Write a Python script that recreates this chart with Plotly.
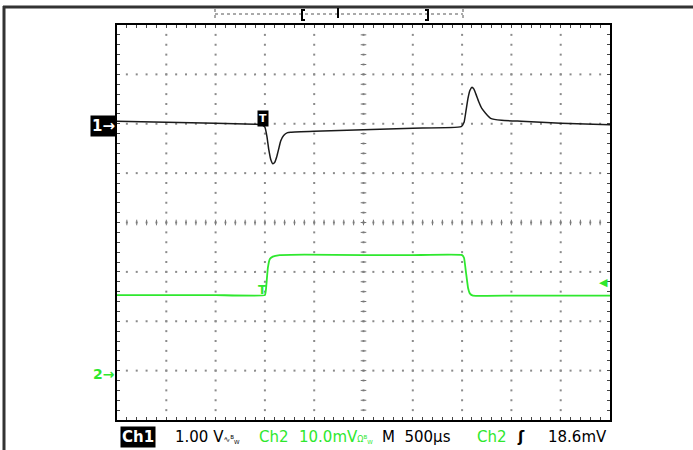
import numpy as np
import plotly.graph_objects as go

# time axis in microseconds (500 us/div, 10 div)
t_ch1 = [-2500, -2000, -1500, -1100, -1030, -1000, -980, -960, -940, -920, -900,
         -880, -860, -840, -810, -770, -740, -500, 0, 500, 990, 1020, 1040, 1060,
         1080, 1100, 1120, 1140, 1170, 1200, 1240, 1290, 1400, 1600, 2000, 2500]
v_ch1 = [0.10, 0.08, 0.06, 0.04, 0.03, -0.02, -0.20, -0.48, -0.68, -0.76, -0.73,
         -0.62, -0.46, -0.30, -0.19, -0.13, -0.12, -0.10, -0.07, -0.04, -0.01, 0.08,
         0.32, 0.57, 0.73, 0.79, 0.75, 0.65, 0.49, 0.36, 0.26, 0.16, 0.12, 0.10,
         0.06, 0.03]

t_ch2 = [-2500, -1500, -1000, -990, -970, -950, -920, -850, -600, 0, 500, 1000,
         1020, 1040, 1060, 1080, 1110, 1500, 2500]
mv_ch2 = [16.0, 16.0, 16.0, 17.0, 21.5, 23.3, 23.8, 24.1, 24.2, 24.1, 24.1, 24.1,
          23.5, 20.5, 17.5, 16.3, 15.9, 15.9, 15.9]

CH1_VDIV = 1.0      # V/div
CH2_VDIV = 10.0     # mV/div
CH1_POS = 1.95      # div
CH2_POS = -3.07     # div
TRIG_LEVEL = 18.6   # mV
TRIG_TIME = -1020   # us

# pixel helpers for decorations outside the graticule
L, R, T, B = 117, 610, 25, 420
def px(x):
    return (x - L) / (R - L)
def py(y):
    return (B - y) / (B - T)

GREEN = '#2ee82e'
fig = go.Figure()

# graticule dots
gx, gy = [], []
for k in range(-4, 5):
    for j in range(1, 40):
        gx.append(k * 500)
        gy.append(-4 + j * 0.2)
for k in range(-3, 4):
    for j in range(1, 50):
        gx.append(-2500 + j * 100)
        gy.append(k)
fig.add_trace(go.Scatter(x=gx, y=gy, mode='markers', hoverinfo='skip',
                         marker=dict(symbol='square', size=2, color='#8a8a8a', line_width=0)))

# center cross ticks
cx = [-2500 + j * 100 for j in range(1, 50)]
cy = [-4 + j * 0.2 for j in range(1, 40)]
fig.add_trace(go.Scatter(x=cx, y=[0] * len(cx), mode='markers', hoverinfo='skip',
                         marker=dict(symbol='line-ns', size=4, line=dict(width=1, color='#777'))))
fig.add_trace(go.Scatter(x=[0] * len(cy), y=cy, mode='markers', hoverinfo='skip',
                         marker=dict(symbol='line-ew', size=4, line=dict(width=1, color='#777'))))

# waveforms
fig.add_trace(go.Scatter(x=t_ch1, y=np.array(v_ch1) / CH1_VDIV + CH1_POS, mode='lines',
                         line=dict(color='#1a1a1a', width=1.5, shape='spline', smoothing=0.4)))
fig.add_trace(go.Scatter(x=t_ch2, y=np.array(mv_ch2) / CH2_VDIV + CH2_POS, mode='lines',
                         line=dict(color=GREEN, width=1.8, shape='spline', smoothing=0.3)))

ann = []
FONT = 'DejaVu Sans'
# trigger markers
ann.append(dict(x=TRIG_TIME, y=2.1, xref='x', yref='y', text='<b>T</b>', showarrow=False,
                font=dict(family=FONT, size=11, color='white'), bgcolor='black', borderpad=1))
ann.append(dict(x=TRIG_TIME, y=-1.37, xref='x', yref='y', text='<b>T</b>', showarrow=False,
                font=dict(family=FONT, size=12, color=GREEN)))
ann.append(dict(x=1, y=TRIG_LEVEL / CH2_VDIV + CH2_POS, xref='paper', yref='y', text='◀',
                showarrow=False, xanchor='right', font=dict(family=FONT, size=11, color=GREEN)))
# ground markers
ann.append(dict(x=0, y=CH1_POS, xref='paper', yref='y', text='<b>1→</b>', showarrow=False,
                xanchor='right', font=dict(family=FONT, size=15, color='white'),
                bgcolor='black', borderpad=1))
ann.append(dict(x=0, y=CH2_POS, xref='paper', yref='y', text='<b>2→</b>', showarrow=False,
                xanchor='right', font=dict(family=FONT, size=14, color=GREEN)))

# status line
yb = py(437)
small = "<span style='font-size:8px'>%s</span>"
status = [
    (120, '<b>Ch1</b>', 'white', 'black'),
    (174, '1.00 V' + small % '∿<sup>B</sup><sub>W</sub>', 'black', None),
    (258, 'Ch2', GREEN, None),
    (298, '10.0mV' + small % 'Ω<sup>B</sup><sub>W</sub>', GREEN, None),
    (381, 'M  500µs', 'black', None),
    (476, 'Ch2', GREEN, None),
    (516, '<b>ʃ</b>', 'black', None),
    (547, '18.6mV', 'black', None),
]
for x, text, col, bg in status:
    a = dict(x=px(x), y=yb, xref='paper', yref='paper', text=text, showarrow=False,
             xanchor='left', yanchor='middle', font=dict(family=FONT, size=15, color=col),
             borderpad=1 if bg else 0)
    if bg:
        a['bgcolor'] = bg
    ann.append(a)

shapes = []
# outer frame
shapes.append(dict(type='line', xref='paper', yref='paper', x0=px(3), x1=px(693),
                   y0=py(7), y1=py(7), line=dict(color='#333', width=3)))
shapes.append(dict(type='line', xref='paper', yref='paper', x0=px(4), x1=px(4),
                   y0=py(6), y1=py(450), line=dict(color='#333', width=3)))
# record length bar
shapes.append(dict(type='line', xref='paper', yref='paper', x0=px(215), x1=px(463),
                   y0=py(14), y1=py(14), line=dict(color='#555', width=1, dash='dot')))
for xe in (215, 463):
    shapes.append(dict(type='line', xref='paper', yref='paper', x0=px(xe), x1=px(xe),
                       y0=py(9), y1=py(20), line=dict(color='#555', width=1, dash='dot')))
for xe, d in ((302, 1), (428, -1)):
    shapes.append(dict(type='path', xref='paper', yref='paper',
                       path='M %f %f L %f %f L %f %f L %f %f' % (
                           px(xe + 3 * d), py(10), px(xe), py(10), px(xe), py(20),
                           px(xe + 3 * d), py(20)),
                       line=dict(color='black', width=2)))
shapes.append(dict(type='line', xref='paper', yref='paper', x0=px(338), x1=px(338),
                   y0=py(8), y1=py(18), line=dict(color='black', width=2)))

fig.update_layout(
    width=693, height=450,
    margin=dict(l=L, r=693 - R, t=T, b=450 - B),
    paper_bgcolor='white', plot_bgcolor='white',
    showlegend=False,
    annotations=ann, shapes=shapes,
)
fig.update_xaxes(range=[-2500, 2500], showgrid=False, zeroline=False,
                 showline=True, linecolor='black', linewidth=2, mirror='allticks',
                 ticks='inside', tick0=-2500, dtick=100, ticklen=3, tickcolor='#444',
                 showticklabels=False)
fig.update_yaxes(range=[-4, 4], showgrid=False, zeroline=False,
                 showline=True, linecolor='black', linewidth=2, mirror='allticks',
                 ticks='inside', tick0=-4, dtick=0.2, ticklen=3, tickcolor='#444',
                 showticklabels=False)

fig.write_html("out.html", config={'displayModeBar': False},
               post_script="document.body.style.margin='0';document.body.style.overflow='hidden';")
